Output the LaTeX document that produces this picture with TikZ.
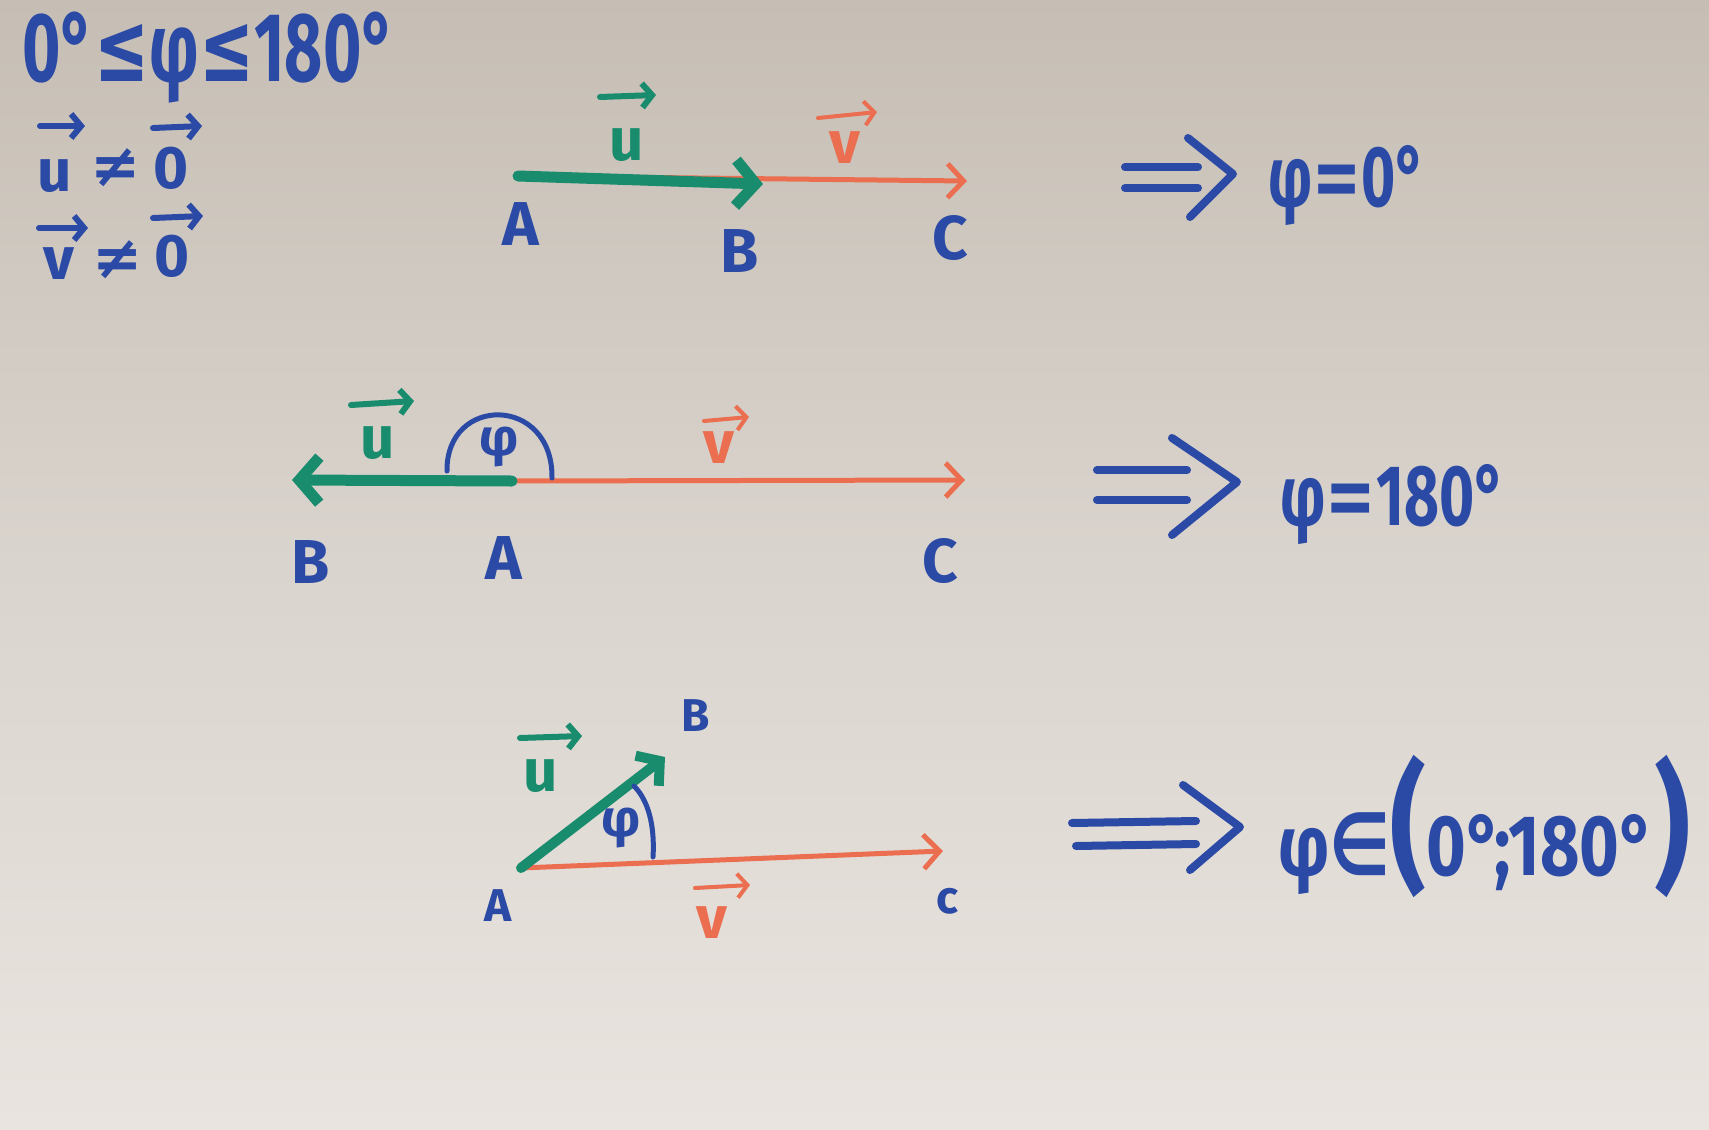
\documentclass[tikz,border=0pt]{standalone}
\usepackage{fontspec}
\setmainfont{Fira Sans}
\newfontfamily\symf{DejaVu Sans}
\usetikzlibrary{arrows.meta,calc}
\definecolor{ink}{HTML}{2B4AA6}
\definecolor{ugreen}{HTML}{198C6E}
\definecolor{vorange}{HTML}{EB6E50}
\definecolor{boardtop}{HTML}{C6BEB4}
\definecolor{boardmid}{HTML}{DAD4CE}
\definecolor{boardbot}{HTML}{E9E4DF}
\tikzset{
  ustroke/.style={draw=ugreen, line width=11pt, line cap=round, line join=round},
  vstroke/.style={draw=vorange, line width=5pt, line cap=round, line join=round},
  inkstroke/.style={draw=ink, line width=8pt, line cap=round, line join=round},
  uhead/.style={-{Straight Barb[length=20pt,width=46pt]}},
  vhead/.style={-{Straight Barb[length=16pt,width=34pt]}},
  ptlabel/.style={text=ink, inner sep=0pt, font=\fontsize{62}{62}\selectfont\bfseries},
  smallpt/.style={text=ink, inner sep=0pt, font=\fontsize{46}{46}\selectfont\bfseries},
  veclabel/.style={inner sep=0pt, font=\fontsize{60}{60}\selectfont\bfseries},
  vecbar/.style={line width=6pt, line cap=round, -{Straight Barb[length=10pt,width=24pt]}},
  bigtxt/.style={text=ink, inner sep=0pt, font=\fontsize{86}{86}\selectfont\bfseries},
  condtxt/.style={text=ink, inner sep=0pt, font=\fontsize{98}{98}\selectfont\bfseries},
  philabel/.style={text=ink, inner sep=0pt, font=\fontsize{52}{52}\selectfont\bfseries},
}
\begin{document}
\begin{tikzpicture}[x=1pt,y=-1pt]
\useasboundingbox (0,0) rectangle (1709,1130);
\shade[top color=boardtop, bottom color=boardbot, middle color=boardmid] (0,0) rectangle (1709,1130);

% ---------- conditions (top left) ----------
\node[condtxt, anchor=west] (cond) at (22,58) {\scalebox{0.67}[1]{0°{\symf≤}φ{\symf≤}180°}};
\node[veclabel, text=ink] (cu) at (55,176) {u};
\node[veclabel, text=ink] (cuneq) at (116,168) {\symf≠};
\node[veclabel, text=ink] (cuzero) at (171,168) {0};
\draw[vecbar, draw=ink] ($(cu)+(-15,-50)$) -- ($(cu)+(30,-50)$);
\draw[vecbar, draw=ink] ($(cuzero)+(-18,-40)$) -- ($(cuzero)+(31,-42)$);
\node[veclabel, text=ink] (cv) at (59,264) {v};
\node[veclabel, text=ink] (cvneq) at (118,260) {\symf≠};
\node[veclabel, text=ink] (cvzero) at (172,256) {0};
\draw[vecbar, draw=ink] ($(cv)+(-20,-36)$) -- ($(cv)+(29,-36)$);
\draw[vecbar, draw=ink] ($(cvzero)+(-19,-38)$) -- ($(cvzero)+(31,-40)$);

% ---------- case 1: phi = 0 ----------
\coordinate (A1) at (518,176);
\coordinate (B1) at (763,184);
\coordinate (C1) at (967,181);
\draw[vstroke, vhead] (A1) -- (C1);
\draw[ustroke, uhead] (A1) -- (B1);
\node[ptlabel] (lA1) at (521,224) {A};
\node[ptlabel] (lB1) at (740,251) {B};
\node[ptlabel] (lC1) at (950,238) {C};
\node[veclabel, text=ugreen] (u1) at (627,145) {u};
\draw[vecbar, draw=ugreen] ($(u1)+(-27,-48)$) -- ($(u1)+(29,-50)$);
\node[veclabel, text=vorange] (v1) at (845,148) {v};
\draw[vecbar, draw=vorange, line width=4pt] ($(v1)+(-27,-30)$) -- ($(v1)+(32,-36)$);
\coordinate (i1a) at (1125,167); \coordinate (i1b) at (1198,167);
\coordinate (i1c) at (1125,188); \coordinate (i1d) at (1198,188);
\coordinate (i1e) at (1188,138); \coordinate (i1f) at (1233,174); \coordinate (i1g) at (1190,217);
\draw[inkstroke] (i1a) -- (i1b); \draw[inkstroke] (i1c) -- (i1d);
\draw[inkstroke] (i1e) -- (i1f) -- (i1g);
\node[bigtxt, anchor=west] (r1) at (1268,186) {\scalebox{0.68}[1]{φ{\symf=}0°}};

% ---------- case 2: phi = 180 ----------
\coordinate (A2) at (512,481);
\coordinate (B2) at (292,480);
\coordinate (C2) at (965,480);
\draw[vstroke, vhead] (A2) -- (C2);
\draw[ustroke, uhead] (A2) -- (B2);
\coordinate (arcL) at (447,471);
\coordinate (arcR) at (552,478);
\draw[inkstroke, line width=5pt] (arcL) .. controls (446,395) and (553,395) .. (arcR);
\node[philabel] (phi2) at (499,447) {φ};
\node[ptlabel] (lB2) at (311,562) {B};
\node[ptlabel] (lA2) at (504,558) {A};
\node[ptlabel] (lC2) at (940,561) {C};
\node[veclabel, text=ugreen] (u2) at (378,443) {u};
\draw[vecbar, draw=ugreen] ($(u2)+(-27,-38)$) -- ($(u2)+(36,-42)$);
\node[veclabel, text=vorange] (v2) at (719,448) {v};
\draw[vecbar, draw=vorange, line width=4pt] ($(v2)+(-15,-27)$) -- ($(v2)+(30,-31)$);
\coordinate (i2a) at (1097,470); \coordinate (i2b) at (1187,470);
\coordinate (i2c) at (1097,500); \coordinate (i2d) at (1187,500);
\coordinate (i2e) at (1172,438); \coordinate (i2f) at (1237,482); \coordinate (i2g) at (1172,535);
\draw[inkstroke] (i2a) -- (i2b); \draw[inkstroke] (i2c) -- (i2d);
\draw[inkstroke] (i2e) -- (i2f) -- (i2g);
\node[bigtxt, anchor=west] (r2) at (1280,505) {\scalebox{0.7}[1]{φ{\symf=}180°}};

% ---------- case 3: 0 < phi < 180 ----------
\coordinate (A3) at (521,868);
\coordinate (B3) at (665,757);
\coordinate (C3) at (943,851);
\draw[vstroke, vhead] (A3) -- (C3);
\draw[ustroke, line width=10pt, -{Straight Barb[length=16pt,width=38pt]}] (A3) -- (B3);
\coordinate (arc3a) at (653,857);
\coordinate (arc3b) at (634,786);
\draw[inkstroke, line width=5pt] (arc3a) .. controls (655,825) and (648,800) .. (arc3b);
\node[philabel] (phi3) at (621,828) {φ};
\node[smallpt] (lB3) at (696,716) {B};
\node[smallpt] (lA3) at (498,906) {A};
\node[smallpt] (lC3) at (948,901) {c};
\node[veclabel, text=ugreen] (u3) at (541,776) {u};
\draw[vecbar, draw=ugreen] ($(u3)+(-21,-38)$) -- ($(u3)+(41,-40)$);
\node[veclabel, text=vorange] (v3) at (712,923) {v};
\draw[vecbar, draw=vorange, line width=4pt] ($(v3)+(-17,-35)$) -- ($(v3)+(38,-38)$);
\coordinate (i3a) at (1072,823); \coordinate (i3b) at (1196,821);
\coordinate (i3c) at (1076,846); \coordinate (i3d) at (1196,844);
\coordinate (i3e) at (1183,785); \coordinate (i3f) at (1240,827); \coordinate (i3g) at (1190,870);
\draw[inkstroke] (i3a) -- (i3b); \draw[inkstroke] (i3c) -- (i3d);
\draw[inkstroke] (i3e) -- (i3f) -- (i3g);
\node[bigtxt, anchor=west] (r3) at (1278,826) {\scalebox{0.79}[1]{φ{\symf∈}{\fontsize{140}{140}\selectfont(}0°;180°{\fontsize{140}{140}\selectfont)}}};
\end{tikzpicture}
\end{document}
